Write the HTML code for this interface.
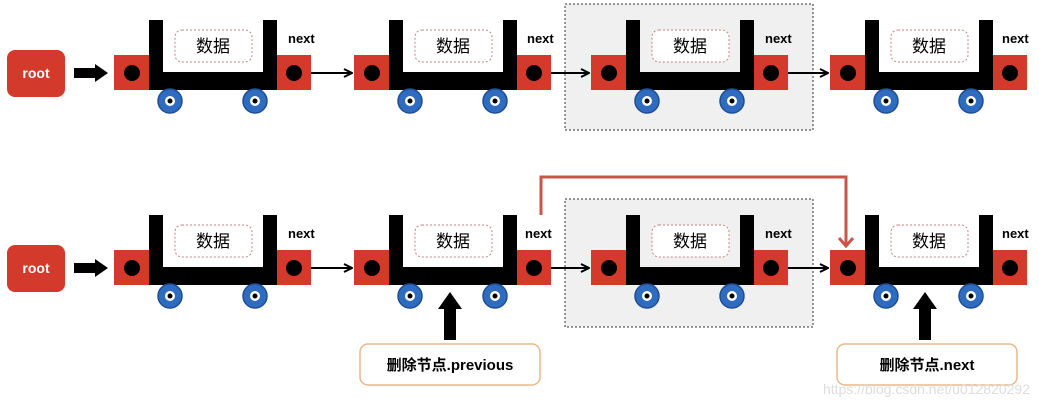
<!DOCTYPE html>
<html><head><meta charset="utf-8"><style>
html,body{margin:0;padding:0;background:#fff;width:1039px;height:400px;overflow:hidden}
text{font-family:"Liberation Sans","Noto Sans CJK SC",sans-serif}
</style></head><body>
<svg width="1039" height="400" viewBox="0 0 1039 400" xmlns="http://www.w3.org/2000/svg">
<defs>
<g id="node">
  <rect x="0" y="35" width="36" height="35" fill="#d33a2b"/>
  <circle cx="18" cy="53" r="8" fill="#000"/>
  <rect x="35" y="0" width="14" height="70" fill="#000"/>
  <rect x="149" y="0" width="14" height="70" fill="#000"/>
  <rect x="35" y="52" width="128" height="18" fill="#000"/>
  <rect x="163" y="35" width="34" height="35" fill="#d33a2b"/>
  <circle cx="180" cy="53" r="8" fill="#000"/>
  <rect x="61" y="10" width="77" height="32" rx="7" fill="#fff" stroke="#c98080" stroke-dasharray="2,2"/>
  <circle cx="56" cy="81" r="12" fill="#2f6cc0" stroke="#1e4f96" stroke-width="1.5"/>
  <circle cx="56" cy="81" r="5" fill="#fff"/><circle cx="56" cy="81" r="2.5" fill="#000"/>
  <circle cx="141" cy="81" r="12" fill="#2f6cc0" stroke="#1e4f96" stroke-width="1.5"/>
  <circle cx="141" cy="81" r="5" fill="#fff"/><circle cx="141" cy="81" r="2.5" fill="#000"/>
</g>
<marker id="ah" markerWidth="10" markerHeight="10" refX="9" refY="5" orient="auto" markerUnits="userSpaceOnUse">
  <path d="M1,1 L9,5 L1,9" fill="none" stroke="#000" stroke-width="2"/>
</marker>
<marker id="rh" markerWidth="16" markerHeight="16" refX="8" refY="13" orient="0" markerUnits="userSpaceOnUse">
  <path d="M1,5 L8,13 L15,5" fill="none" stroke="#c9554a" stroke-width="3"/>
</marker>
</defs>

<rect x="565" y="4" width="248" height="126" fill="#f0f0f0" stroke="#333" stroke-dasharray="2,2"/>
<rect x="565" y="199" width="248" height="128" fill="#f0f0f0" stroke="#333" stroke-dasharray="2,2"/>

<rect x="7" y="50" width="58" height="47" rx="8" fill="#d33a2b"/>
<text x="36" y="78" font-size="14" font-weight="bold" fill="#fff" text-anchor="middle">root</text>
<rect x="7" y="245" width="58" height="47" rx="8" fill="#d33a2b"/>
<text x="36" y="273" font-size="14" font-weight="bold" fill="#fff" text-anchor="middle">root</text>
<path d="M74,68 H95 V64 L108,73 L95,82 V78 H74 Z" fill="#000"/>
<path d="M74,263 H95 V259 L108,268 L95,277 V273 H74 Z" fill="#000"/>

<use href="#node" x="114" y="20"/><use href="#node" x="354" y="20"/>
<use href="#node" x="591" y="20"/><use href="#node" x="830" y="20"/>
<use href="#node" x="114" y="215"/><use href="#node" x="354" y="215"/>
<use href="#node" x="591" y="215"/><use href="#node" x="830" y="215"/>

<g font-size="17" text-anchor="middle" fill="#000">
<text x="213" y="52">数据</text><text x="453" y="52">数据</text><text x="690" y="52">数据</text><text x="929" y="52">数据</text>
<text x="213" y="247">数据</text><text x="453" y="247">数据</text><text x="690" y="247">数据</text><text x="929" y="247">数据</text>
</g>
<g font-size="13" font-weight="bold" fill="#000">
<text x="288" y="43">next</text><text x="527" y="43">next</text><text x="765" y="43">next</text><text x="1002" y="43">next</text>
<text x="288" y="238">next</text><text x="525" y="238">next</text><text x="765" y="238">next</text><text x="1002" y="238">next</text>
</g>

<g stroke="#000" stroke-width="2" marker-end="url(#ah)">
<line x1="311" y1="73" x2="352" y2="73"/><line x1="551" y1="73" x2="589" y2="73"/><line x1="788" y1="73" x2="828" y2="73"/>
<line x1="311" y1="268" x2="352" y2="268"/><line x1="551" y1="268" x2="589" y2="268"/><line x1="788" y1="268" x2="828" y2="268"/>
</g>

<path d="M541,215 V177 H846 V246" fill="none" stroke="#c9554a" stroke-width="3" marker-end="url(#rh)"/>

<path d="M444,340 V309 H438 L450,292 L462,309 H456 V340 Z" fill="#000"/>
<path d="M919,340 V309 H913 L925,292 L937,309 H931 V340 Z" fill="#000"/>

<rect x="360" y="344" width="180" height="41" rx="8" fill="#fff" stroke="#e8b98a" stroke-width="1.5"/>
<text x="450" y="370" font-size="15" font-weight="bold" text-anchor="middle">删除节点.previous</text>
<rect x="837" y="344" width="180" height="41" rx="8" fill="#fff" stroke="#e8b98a" stroke-width="1.5"/>
<text x="927" y="370" font-size="15" font-weight="bold" text-anchor="middle">删除节点.next</text>

<text x="1030" y="394" font-size="14" fill="#ddd" text-anchor="end">https://blog.csdn.net/u012820292</text>
</svg>
</body></html>
